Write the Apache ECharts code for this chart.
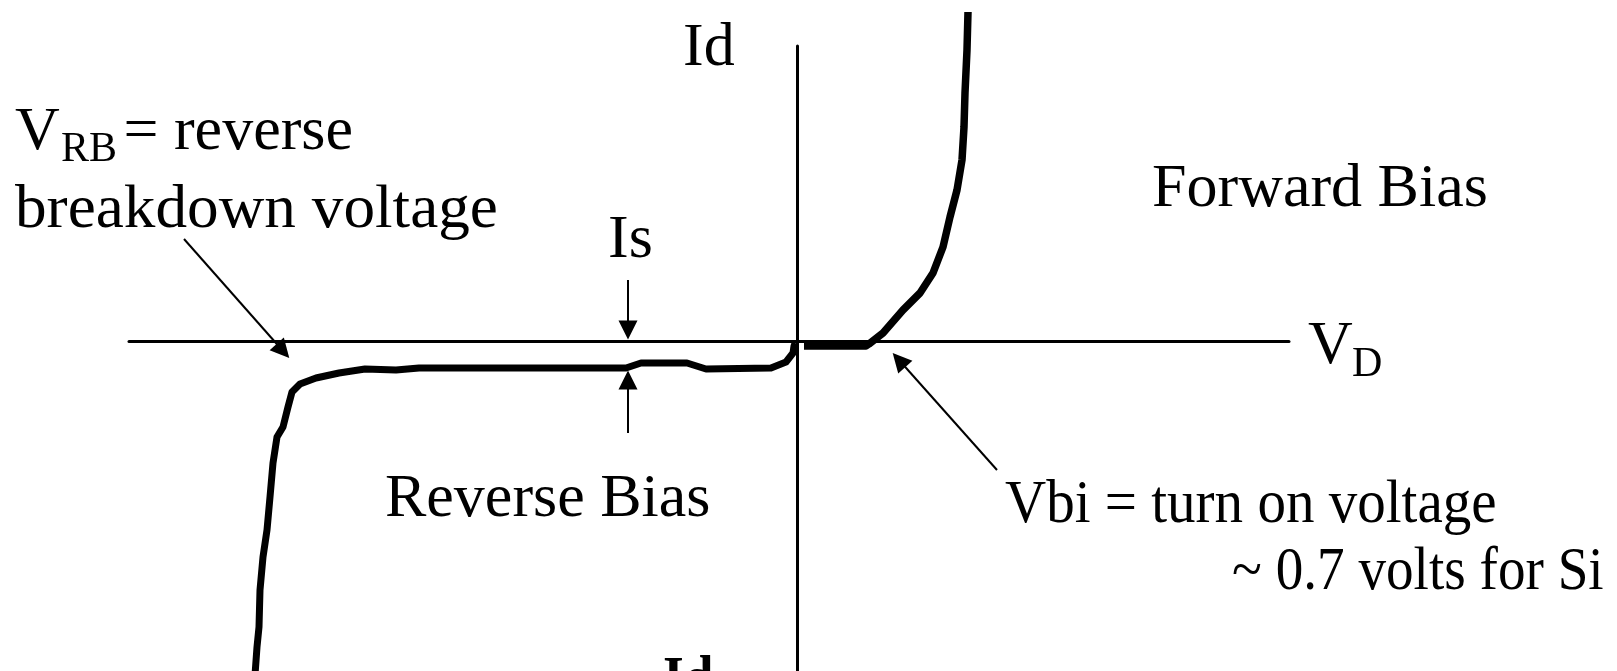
<!DOCTYPE html>
<html><head><meta charset="utf-8">
<script src="https://cdn.jsdelivr.net/npm/echarts@6/dist/echarts.min.js"></script>
<style>html,body{margin:0;padding:0;background:#fff}#c{width:1617px;height:671px}</style>
</head><body><div id="c"></div>
<script>
// Forward-bias branch (V in volts, I in arbitrary units)
const forwardV = [0.07, 0.69, 0.72, 0.86, 1.06, 1.23, 1.36, 1.46, 1.53, 1.60, 1.65, 1.67, 1.68, 1.70, 1.71];
const forwardI = [-0.05, -0.05, -0.03, 0.08, 0.31, 0.48, 0.68, 0.94, 1.24, 1.51, 1.81, 2.14, 2.48, 2.91, 3.29];
// Reverse-bias branch incl. breakdown
const reverseV = [-0.02, -0.03, -0.04, -0.11, -0.26, -0.91, -1.10, -1.56, -1.71, -3.78, -4.01, -4.32, -4.58, -4.81, -4.97, -5.05, -5.09, -5.14, -5.20, -5.24, -5.27, -5.30, -5.34, -5.37, -5.38, -5.40, -5.42];
const reverseI = [-0.02, -0.05, -0.12, -0.21, -0.27, -0.28, -0.22, -0.22, -0.27, -0.27, -0.29, -0.28, -0.32, -0.37, -0.43, -0.51, -0.66, -0.86, -0.96, -1.22, -1.56, -1.89, -2.16, -2.49, -2.86, -3.06, -3.34];
// Annotation arrows (tail -> head) in data coordinates
const arrowTail = [[-6.13, 1.02], [-1.69, 0.61], [-1.69, -0.92], [2.00, -1.29]];
const arrowHead = [[-5.14, -0.10], [-1.69, 0.11], [-1.69, -0.39], [1.02, -0.19]];
// Texts
const axisTitleY = 'Id';
const axisTitleX = ['V', 'D'];
const vrbText = ['V', 'RB', ' = reverse', 'breakdown voltage'];
const isText = 'Is';
const forwardText = 'Forward Bias';
const reverseText = 'Reverse Bias';
const vbiText = ['Vbi = turn on voltage', '~ 0.7 volts for Si'];
const bottomText = 'Id';

const zip = (a, b) => a.map((v, i) => [v, b[i]]);
const FONT = '"Liberation Serif", "Times New Roman", serif';
function txt(text, x, baseline, size, extra) {
  extra = extra || {};
  return Object.assign({
    type: 'text', x: x, y: baseline - 0.75 * size, silent: true,
    style: { text: text, font: (extra.weight || 'normal') + ' ' + size + 'px ' + FONT, fill: '#000' }
  }, extra.el || {});
}

const chart = echarts.init(document.getElementById('c'), null, { renderer: 'canvas' });
const axisCommon = {
  type: 'value',
  axisTick: { show: false }, axisLabel: { show: false }, splitLine: { show: false },
  axisLine: { show: true, onZero: true, lineStyle: { color: '#000', width: 3 } }
};
chart.setOption({
  animation: false,
  backgroundColor: '#fff',
  grid: { left: 129, right: 328, top: 46, bottom: 0 },
  xAxis: Object.assign({}, axisCommon, { min: -6.68, max: 4.92 }),
  yAxis: Object.assign({}, axisCommon, { min: -3.3, max: 2.95 }),
  series: [
    { type: 'line', data: zip(forwardV, forwardI), showSymbol: false, clip: false, silent: true,
      lineStyle: { color: '#000', width: 7.5, join: 'round', cap: 'butt' } },
    { type: 'line', data: zip(reverseV, reverseI), showSymbol: false, clip: false, silent: true,
      lineStyle: { color: '#000', width: 7, join: 'round', cap: 'butt' } },
    { type: 'line', data: [], showSymbol: false, silent: true,
      markLine: { silent: true, animation: false, symbol: ['none', 'triangle'], symbolSize: 19,
        label: { show: false }, emphasis: { disabled: true },
        lineStyle: { color: '#000', width: 2, type: 'solid' },
        data: arrowTail.map((t, i) => [{ coord: t }, { coord: arrowHead[i] }]) } }
  ],
  graphic: [
    txt(axisTitleY, 683, 64, 62),
    txt(vrbText[0], 15, 148, 62),
    txt(vrbText[1], 61, 160, 42),
    txt(vrbText[2], 108, 148, 62),
    txt(vrbText[3], 15, 226, 62, { el: { scaleX: 1.02 } }),
    txt(isText, 608, 256, 62),
    txt(forwardText, 1152, 205, 62),
    txt(axisTitleX[0], 1308, 362, 62),
    txt(axisTitleX[1], 1352, 375, 42),
    txt(reverseText, 385, 515, 62),
    txt(vbiText[0], 1005, 521, 62, { el: { scaleX: 0.92 } }),
    txt(vbiText[1], 1232, 588, 62, { el: { scaleX: 0.89 } }),
    txt(bottomText, 663, 697, 62, { weight: 'bold', el: { scaleX: 0.86 } })
  ]
});
</script></body></html>
